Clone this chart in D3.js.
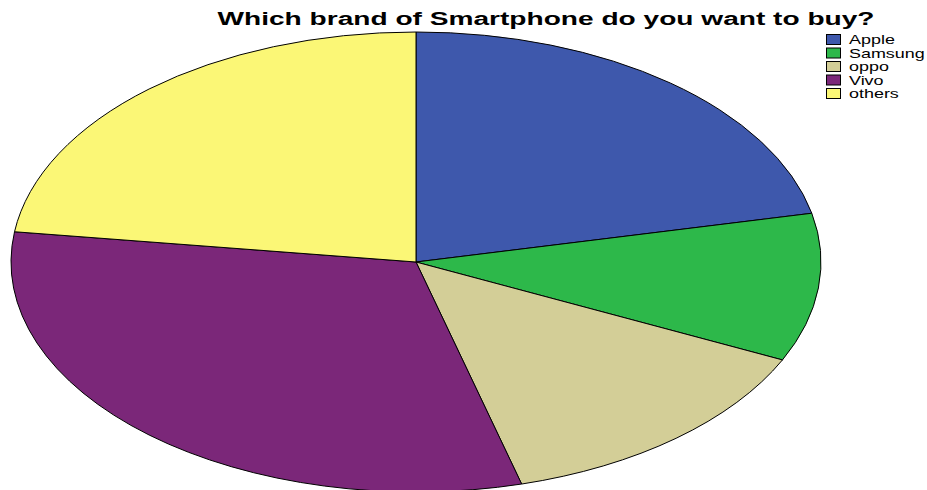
<!DOCTYPE html>
<html lang="en">
<head>
  <meta charset="UTF-8">
  <title>Which brand of Smartphone do you want to buy?</title>
  <style>
    body {
      margin: 0;
      background-color: #ffffff;
      font-family: "Liberation Sans", Arial, sans-serif;
    }
    svg { display: block; }
  </style>
  <script src="https://d3js.org/d3.v7.min.js"></script>
</head>
<body>
  <div id="chart"></div>

  <script>
    // Data (percent of respondents)
    const brands = ['Apple', 'Samsung', 'oppo', 'Vivo', 'others'];
    const shares = [21.6, 10.4, 13.8, 31.3, 22.9];
    const colors = ['#3e58ac', '#2db84a', '#d3ce97', '#7b2779', '#fbf776'];

    const width = 927;
    const height = 490;

    // Ellipse geometry of the pie
    const cx = 416, cy = 262;
    const rx = 405, ry = 230;

    const svg = d3.select('#chart')
      .append('svg')
      .attr('width', width)
      .attr('height', height);

    // Title
    svg.append('text')
      .attr('x', 546)
      .attr('y', 25)
      .attr('text-anchor', 'middle')
      .attr('font-size', 18)
      .attr('font-weight', 'bold')
      .attr('textLength', 657)
      .attr('lengthAdjust', 'spacingAndGlyphs')
      .text('Which brand of Smartphone do you want to buy?');

    const color = d3.scaleOrdinal().domain(brands).range(colors);

    const pie = d3.pie()
      .sort(null)
      .value((d, i) => shares[i]);

    const arc = d3.arc()
      .innerRadius(0)
      .outerRadius(ry);

    // Pie drawn as a circle and stretched horizontally
    const g = svg.append('g')
      .attr('transform', `translate(${cx},${cy}) scale(${rx / ry},1)`);

    g.selectAll('path')
      .data(pie(brands))
      .enter()
      .append('path')
      .attr('d', arc)
      .attr('fill', d => color(d.data))
      .attr('stroke', '#000')
      .attr('stroke-width', 1)
      .attr('vector-effect', 'non-scaling-stroke');

    // Legend
    const legend = svg.append('g')
      .attr('transform', 'translate(826,34)');

    const item = legend.selectAll('g')
      .data(brands)
      .enter()
      .append('g')
      .attr('transform', (d, i) => `translate(0,${i * 13.5})`);

    item.append('rect')
      .attr('x', 0.5)
      .attr('y', 0.5)
      .attr('width', 14)
      .attr('height', 10)
      .attr('fill', d => color(d))
      .attr('stroke', '#000')
      .attr('stroke-width', 1);

    // labels are drawn wider than normal, as in the source image
    item.append('text')
      .attr('transform', 'translate(23,10) scale(1.38,1)')
      .attr('font-size', 13)
      .text(d => d);
  </script>
</body>
</html>
